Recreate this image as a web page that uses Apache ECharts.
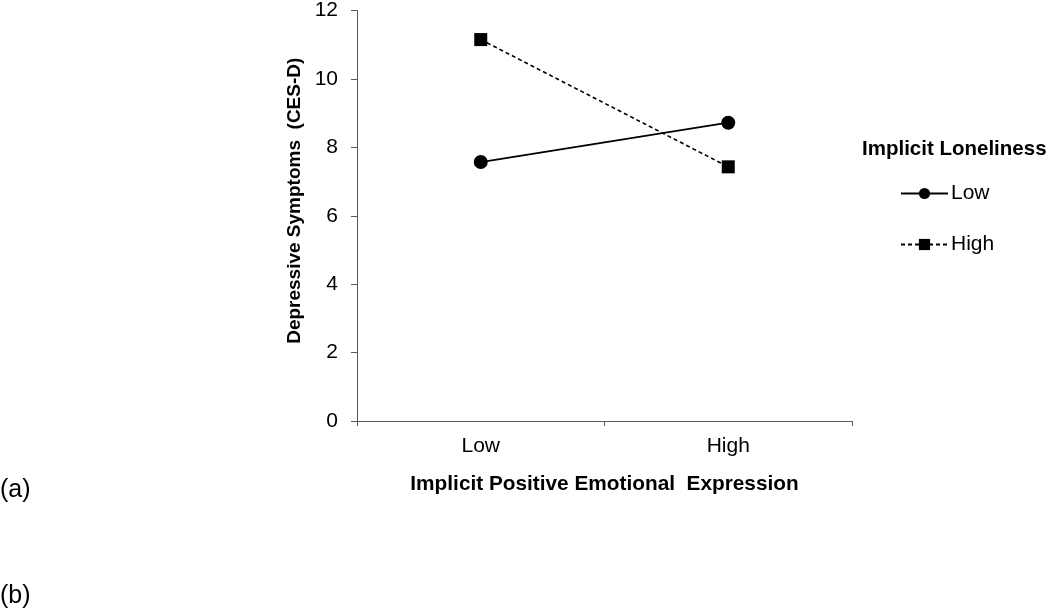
<!DOCTYPE html>
<html>
<head>
<meta charset="utf-8">
<script src="https://cdn.jsdelivr.net/npm/echarts@6/dist/echarts.min.js"></script>
<style>html,body{margin:0;padding:0;background:#fff}#c{width:1050px;height:611px}</style>
</head>
<body>
<div id="c"></div>
<script>
const categories = ['Low', 'High'];
const lowLoneliness = [7.57, 8.72];
const highLoneliness = [11.15, 7.43];
const seriesNames = ['Low', 'High'];
const yTicks = { min: 0, max: 12, interval: 2 };

const FONT = 'Arial, "Liberation Sans", sans-serif';
const chart = echarts.init(document.getElementById('c'), null, { renderer: 'canvas' });
chart.setOption({
  animation: false,
  backgroundColor: '#fff',
  textStyle: { fontFamily: FONT, color: '#000' },
  title: {
    text: 'Implicit Loneliness',
    left: 862, top: 139, padding: 0,
    textStyle: { fontFamily: FONT, fontWeight: 'bold', fontSize: 20.5, color: '#000' }
  },
  legend: {
    data: seriesNames,
    orient: 'vertical',
    left: 900, top: 183, padding: 0,
    itemWidth: 47, itemHeight: 14,
    itemGap: 30,
    textStyle: { fontFamily: FONT, fontSize: 21, color: '#000', padding: [0, 0, 0, -2] }
  },
  grid: { left: 357, right: 198, top: 9, bottom: 190, containLabel: false },
  xAxis: {
    type: 'category',
    data: categories,
    boundaryGap: true,
    name: 'Implicit Positive Emotional  Expression',
    nameLocation: 'middle',
    nameGap: 53,
    nameTextStyle: { fontFamily: FONT, fontWeight: 'bold', fontSize: 20.8, color: '#000' },
    axisLine: { lineStyle: { color: '#595959', width: 1 } },
    axisTick: { show: true, length: 5, lineStyle: { color: '#595959' } },
    axisLabel: { fontFamily: FONT, fontSize: 21, color: '#000', margin: 15 },
    splitLine: { show: false }
  },
  yAxis: {
    type: 'value',
    min: yTicks.min, max: yTicks.max, interval: yTicks.interval,
    name: 'Depressive Symptoms  (CES-D)',
    nameLocation: 'middle',
    nameGap: 53,
    nameTextStyle: { fontFamily: FONT, fontWeight: 'bold', fontSize: 19, color: '#000', padding: [0, 0, 0, 30] },
    axisLine: { show: true, lineStyle: { color: '#595959', width: 1 } },
    axisTick: { show: true, length: 6, lineStyle: { color: '#595959' } },
    axisLabel: { fontFamily: FONT, fontSize: 21, color: '#000', margin: 19 },
    splitLine: { show: false }
  },
  series: [
    {
      name: seriesNames[0], type: 'line', data: lowLoneliness,
      symbol: 'circle', symbolSize: 14,
      itemStyle: { color: '#000' },
      lineStyle: { color: '#000', width: 1.8, type: 'solid' }
    },
    {
      name: seriesNames[1], type: 'line', data: highLoneliness,
      symbol: 'rect', symbolSize: 13,
      itemStyle: { color: '#000' },
      lineStyle: { color: '#000', width: 1.6, type: [4, 3] }
    }
  ],
  graphic: [
    { type: 'text', left: 0, top: 478, style: { text: '(a)', font: '25px ' + FONT, fill: '#000' } },
    { type: 'text', left: 0, top: 584, style: { text: '(b)', font: '25px ' + FONT, fill: '#000' } }
  ]
});
</script>
</body>
</html>
